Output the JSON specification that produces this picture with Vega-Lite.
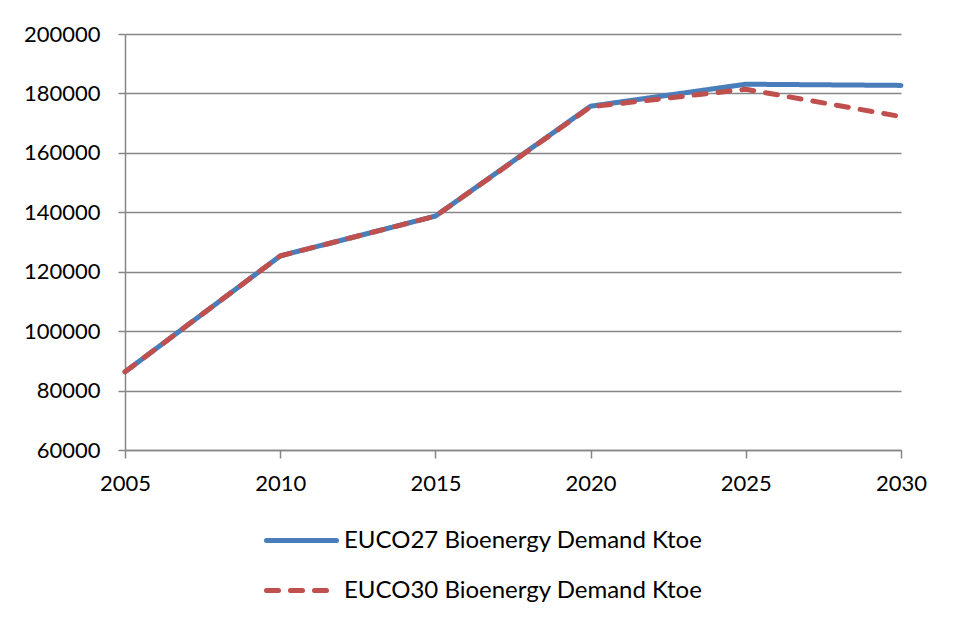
{
  "$schema": "https://vega.github.io/schema/vega-lite/v6.json",
  "width": 776,
  "height": 416,
  "autosize": {"type": "none"},
  "padding": {"left": 125, "top": 34, "right": 55, "bottom": 175},
  "background": "white",
  "config": {
    "view": {"stroke": null},
    "font": "Lato",
    "axis": {
      "labelFont": "Lato",
      "labelFontSize": 22,
      "labelColor": "#000000",
      "domainColor": "#868686",
      "tickColor": "#868686",
      "gridColor": "#868686",
      "domainWidth": 1.5,
      "tickWidth": 1.5,
      "gridWidth": 1.5
    }
  },
  "data": {
    "values": [
      {"year": 2005, "series": "EUCO27 Bioenergy Demand Ktoe", "value": 86300},
      {"year": 2010, "series": "EUCO27 Bioenergy Demand Ktoe", "value": 125300},
      {"year": 2015, "series": "EUCO27 Bioenergy Demand Ktoe", "value": 138700},
      {"year": 2020, "series": "EUCO27 Bioenergy Demand Ktoe", "value": 175700},
      {"year": 2025, "series": "EUCO27 Bioenergy Demand Ktoe", "value": 183100},
      {"year": 2030, "series": "EUCO27 Bioenergy Demand Ktoe", "value": 182700},
      {"year": 2005, "series": "EUCO30 Bioenergy Demand Ktoe", "value": 86300},
      {"year": 2010, "series": "EUCO30 Bioenergy Demand Ktoe", "value": 125300},
      {"year": 2015, "series": "EUCO30 Bioenergy Demand Ktoe", "value": 138700},
      {"year": 2020, "series": "EUCO30 Bioenergy Demand Ktoe", "value": 175500},
      {"year": 2025, "series": "EUCO30 Bioenergy Demand Ktoe", "value": 181400},
      {"year": 2030, "series": "EUCO30 Bioenergy Demand Ktoe", "value": 172200}
    ]
  },
  "mark": {"type": "line", "strokeWidth": 5, "strokeCap": "round", "strokeJoin": "round"},
  "encoding": {
    "x": {
      "field": "year",
      "type": "quantitative",
      "scale": {"domain": [2005, 2030], "nice": false, "zero": false},
      "axis": {
        "title": null,
        "values": [2005, 2010, 2015, 2020, 2025, 2030],
        "format": "d",
        "grid": false,
        "tickSize": 8,
        "labelPadding": 15,
        "labelFlush": false
      }
    },
    "y": {
      "field": "value",
      "type": "quantitative",
      "scale": {"domain": [60000, 200000], "nice": false, "zero": false},
      "axis": {
        "title": null,
        "values": [60000, 80000, 100000, 120000, 140000, 160000, 180000, 200000],
        "format": "d",
        "tickSize": 7,
        "labelPadding": 18
      }
    },
    "color": {
      "field": "series",
      "type": "nominal",
      "scale": {"range": ["#4A7EBB", "#C0504D"]},
      "legend": {
        "title": null,
        "orient": "none",
        "legendX": 139,
        "legendY": 469,
        "direction": "vertical",
        "symbolType": "stroke",
        "symbolSize": 4900,
        "symbolStrokeWidth": 5,
        "labelFont": "Lato",
        "labelFontSize": 24,
        "labelColor": "#000000",
        "labelOffset": 5,
        "labelLimit": 0,
        "rowPadding": -1,
        "encode": {
          "symbols": {
            "update": {
              "strokeCap": {"value": "round"},
              "strokeDash": {"signal": "datum.value === 'EUCO30 Bioenergy Demand Ktoe' ? [13, 11] : [1, 0]"}
            }
          }
        }
      }
    },
    "strokeDash": {
      "field": "series",
      "type": "nominal",
      "scale": {"range": [[1, 0], [12, 12]]},
      "legend": null
    }
  }
}
